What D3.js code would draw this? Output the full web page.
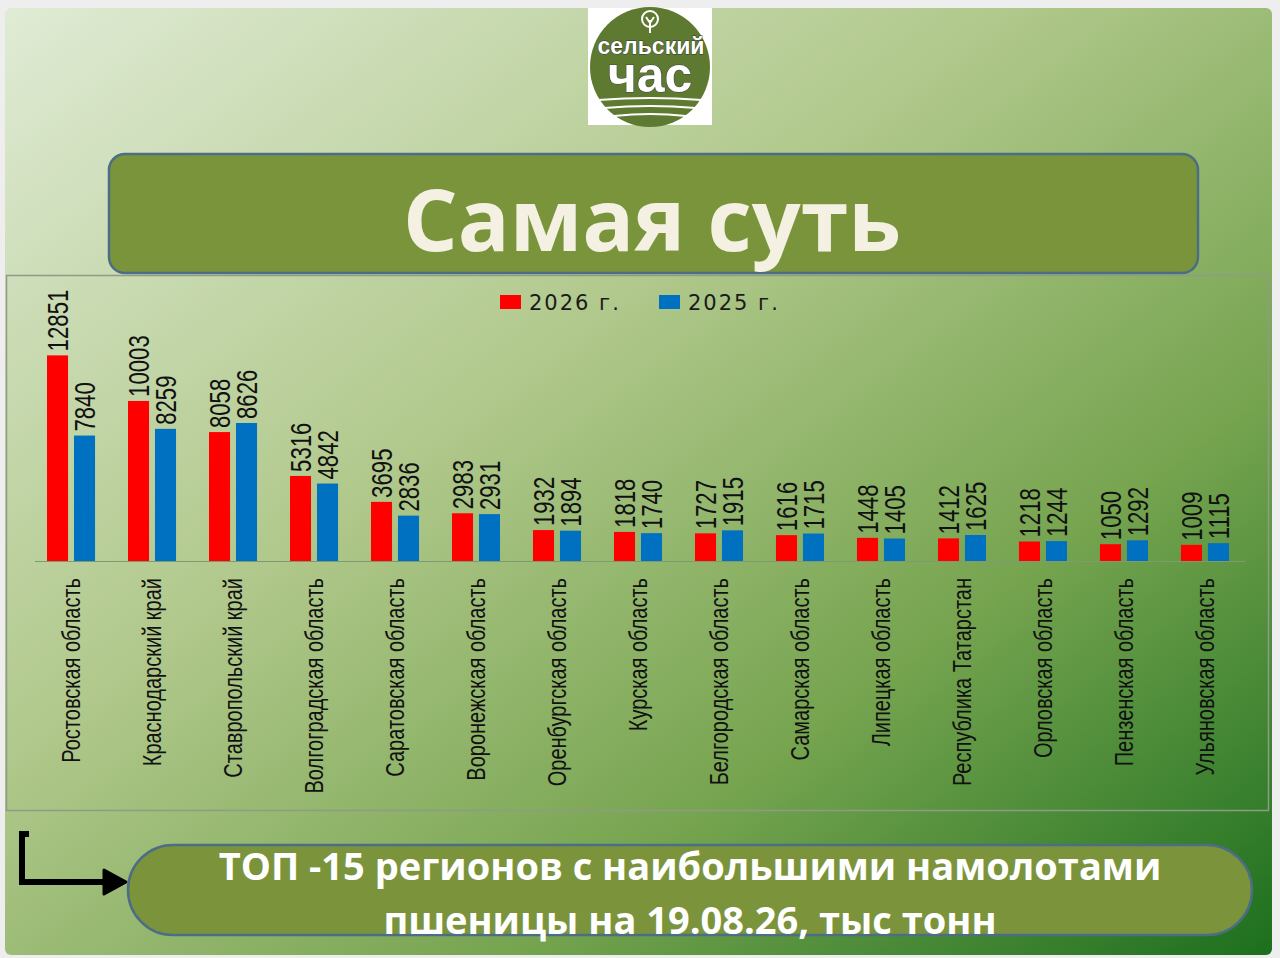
<!DOCTYPE html>
<html>
<head>
<meta charset="utf-8">
<script src="https://cdn.jsdelivr.net/npm/d3@7"></script>
<style>
  html, body { margin: 0; padding: 0; background: #eeeeef; }
  svg { display: block; }
</style>
</head>
<body>
<div id="graph"></div>
<script>
// data
var regions = ["Ростовская область", "Краснодарский край", "Ставропольский край",
  "Волгоградская область", "Саратовская область", "Воронежская область",
  "Оренбургская область", "Курская область", "Белгородская область",
  "Самарская область", "Липецкая область", "Республика Татарстан",
  "Орловская область", "Пензенская область", "Ульяновская область"];
var harvest2026 = [12851, 10003, 8058, 5316, 3695, 2983, 1932, 1818, 1727, 1616, 1448, 1412, 1218, 1050, 1009];
var harvest2025 = [7840, 8259, 8626, 4842, 2836, 2931, 1894, 1740, 1915, 1715, 1405, 1625, 1244, 1292, 1115];
var seriesNames = ["2026 г.", "2025 г."];
var seriesColors = ["#ff0000", "#0070c0"];

var W = 1280, H = 958;
var svg = d3.select("#graph").append("svg")
  .attr("width", W).attr("height", H);

var defs = svg.append("defs");
var grad = defs.append("linearGradient").attr("id", "bg")
  .attr("x1", 0).attr("y1", 0).attr("x2", 1).attr("y2", 1);
grad.append("stop").attr("offset", 0).attr("stop-color", "#e0ebd5");
grad.append("stop").attr("offset", 0.4).attr("stop-color", "#b0c88b");
grad.append("stop").attr("offset", 0.7).attr("stop-color", "#76a44f");
grad.append("stop").attr("offset", 1).attr("stop-color", "#1c6f1e");

// slide
svg.append("rect")
  .attr("x", 5).attr("y", 8).attr("width", 1267).attr("height", 947)
  .attr("rx", 6).attr("fill", "url(#bg)");

// logo
var logo = svg.append("g");
logo.append("rect").attr("x", 588).attr("y", 8).attr("width", 124).attr("height", 117).attr("fill", "#ffffff");
logo.append("circle").attr("cx", 650).attr("cy", 67).attr("r", 60).attr("fill", "#5d7a30");
logo.append("circle").attr("cx", 650).attr("cy", 19).attr("r", 8).attr("fill", "none")
  .attr("stroke", "#fff").attr("stroke-width", 2);
logo.append("path").attr("d", "M650,20 L650,33 M646,17 L650,23 L654,17")
  .attr("stroke", "#fff").attr("stroke-width", 2).attr("fill", "none");
logo.append("text").attr("x", 651).attr("y", 54).attr("text-anchor", "middle")
  .attr("font-family", "Liberation Sans, Arial, sans-serif").attr("font-weight", "bold")
  .attr("font-size", 23).attr("fill", "#ffffff").attr("stroke", "#333").attr("stroke-width", 0.8)
  .attr("paint-order", "stroke").text("сельский");
logo.append("text").attr("x", 650).attr("y", 92).attr("text-anchor", "middle")
  .attr("font-family", "Liberation Sans, Arial, sans-serif").attr("font-weight", "bold")
  .attr("font-size", 50).attr("fill", "#ffffff").attr("stroke", "#444").attr("stroke-width", 1)
  .attr("paint-order", "stroke").text("час");
[[598, 702, 100], [604, 696, 108], [614, 686, 116]].forEach(function(w){
  logo.append("path")
    .attr("d", "M" + w[0] + "," + w[2] + " Q" + ((w[0] + w[1]) / 2) + "," + (w[2] - 4) + " " + w[1] + "," + w[2])
    .attr("stroke", "#fff").attr("stroke-width", 2).attr("fill", "none");
});

// title box
svg.append("rect")
  .attr("x", 109).attr("y", 154).attr("width", 1089).attr("height", 119)
  .attr("rx", 16).attr("fill", "#7a943c").attr("stroke", "#4b6d86").attr("stroke-width", 2.5);
svg.append("text").attr("x", 652).attr("y", 251).attr("text-anchor", "middle")
  .attr("font-family", "Open Sans, sans-serif").attr("font-weight", "bold")
  .attr("font-size", 86).attr("fill", "#f4f1e2").text("Самая суть");

// chart panel
svg.append("rect")
  .attr("x", 6.5).attr("y", 275.5).attr("width", 1262).attr("height", 535)
  .attr("fill", "none").attr("stroke", "#8f9a88").attr("stroke-width", 1.5);

var x0 = d3.scaleBand().domain(regions).range([30, 1246]).paddingInner(0.407).paddingOuter(0.21);
var x1 = d3.scaleBand().domain(seriesNames).range([0, x0.bandwidth()]).paddingInner(0.22);
var y = d3.scaleLinear().domain([0, 14000]).range([561, 337]);

var rows = regions.map(function(r, i){
  return { region: r, values: [harvest2026[i], harvest2025[i]] };
});

// baseline
svg.append("line")
  .attr("x1", 35).attr("x2", 1245).attr("y1", y(0) + 0.5).attr("y2", y(0) + 0.5)
  .attr("stroke", "#7f9a6e").attr("stroke-width", 1);

var groups = svg.selectAll(".grp").data(rows).enter().append("g")
  .attr("class", "grp")
  .attr("transform", function(d){ return "translate(" + x0(d.region) + ",0)"; });

groups.selectAll("rect").data(function(d){
    return d.values.map(function(v, k){ return { s: seriesNames[k], v: v, c: seriesColors[k] }; });
  }).enter().append("rect")
  .attr("x", function(d){ return x1(d.s); })
  .attr("width", x1.bandwidth())
  .attr("y", function(d){ return y(d.v); })
  .attr("height", function(d){ return y(0) - y(d.v); })
  .attr("fill", function(d){ return d.c; });

// narrow look: Liberation Sans squeezed along the text direction
var sans = "Liberation Sans, Arial, sans-serif";

groups.selectAll("text.val").data(function(d){
    return d.values.map(function(v, k){ return { s: seriesNames[k], v: v }; });
  }).enter().append("text")
  .attr("class", "val")
  .attr("transform", function(d){
    return "translate(" + (x1(d.s) + x1.bandwidth() / 2) + "," + (y(d.v) - 4) + ") rotate(-90) scale(0.74,1)";
  })
  .attr("dy", "0.36em")
  .attr("font-family", sans).attr("font-size", 30).attr("fill", "#111")
  .text(function(d){ return d.v; });

// category labels
var xAxis = d3.axisBottom(x0).tickSize(0).tickPadding(0);
var ax = svg.append("g").attr("transform", "translate(0," + (y(0) + 17) + ")").call(xAxis);
ax.select(".domain").remove();
ax.selectAll("text")
  .attr("transform", "rotate(-90) scale(0.8,1)")
  .attr("text-anchor", "end")
  .attr("x", 0).attr("y", 0).attr("dy", "0.36em")
  .attr("font-family", sans).attr("font-size", 25).attr("fill", "#111");

// legend
var legend = svg.append("g");
seriesNames.forEach(function(name, k){
  var lx = 500 + k * 159;
  legend.append("rect").attr("x", lx).attr("y", 295).attr("width", 21).attr("height", 14)
    .attr("fill", seriesColors[k]);
  legend.append("text").attr("x", lx + 29).attr("y", 310)
    .attr("font-family", "DejaVu Sans, sans-serif").attr("font-size", 21).attr("letter-spacing", 2)
    .attr("fill", "#1a1a1a").text(name);
});

// bottom caption
svg.append("path")
  .attr("d", "M29,834 L22,834 L22,882 L112,882")
  .attr("stroke", "#000").attr("stroke-width", 6).attr("fill", "none");
svg.append("path")
  .attr("d", "M104,870 L126,882 L104,894 Z")
  .attr("fill", "#000").attr("stroke", "#000").attr("stroke-width", 3).attr("stroke-linejoin", "round");

svg.append("rect")
  .attr("x", 128).attr("y", 845).attr("width", 1124).attr("height", 90)
  .attr("rx", 45).attr("fill", "#7b943c").attr("stroke", "#4b6d86").attr("stroke-width", 2.5);
var cap = svg.append("text").attr("text-anchor", "middle")
  .attr("font-family", "Open Sans, sans-serif").attr("font-weight", "bold")
  .attr("font-size", 38).attr("fill", "#ffffff");
cap.append("tspan").attr("x", 690).attr("y", 880).text("ТОП -15 регионов с наибольшими намолотами");
cap.append("tspan").attr("x", 690).attr("y", 934).text("пшеницы на 19.08.26, тыс тонн");
</script>
</body>
</html>
